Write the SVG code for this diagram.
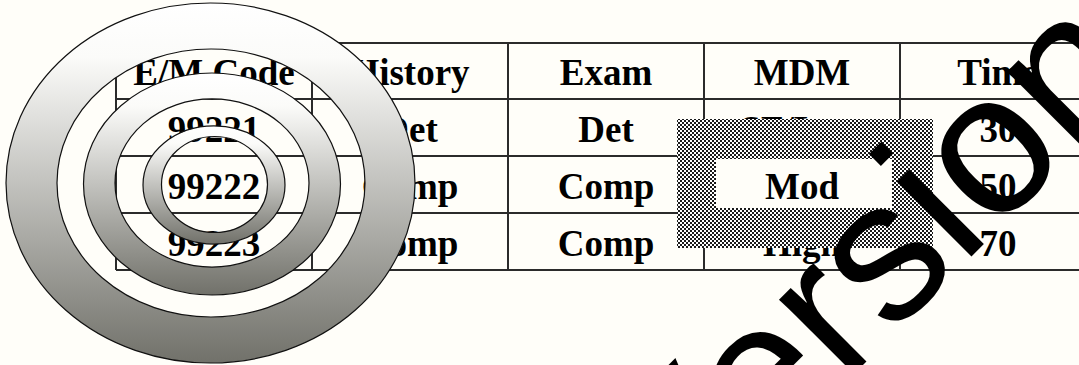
<svg xmlns="http://www.w3.org/2000/svg" width="1079" height="365" viewBox="0 0 1079 365">
<defs>
<style>
.cell{font-family:"Liberation Serif","Times New Roman",serif;font-weight:bold;font-size:37px;fill:#000;text-anchor:middle}
.grid{stroke:#2b2b2b;stroke-width:2;fill:none}
.ring{fill:url(#rg);stroke:#111;stroke-width:1.2;fill-rule:evenodd}
.wm{font-family:"Liberation Sans",Arial,sans-serif;font-size:200px;fill:#000}
</style>
<linearGradient id="rg" x1="0" y1="0" x2="0" y2="1">
<stop offset="0" stop-color="#ffffff"/>
<stop offset="0.15" stop-color="#fbfbf9"/>
<stop offset="1" stop-color="#71716a"/>
</linearGradient>
<pattern id="chk" width="4" height="4" patternUnits="userSpaceOnUse">
<rect width="4" height="4" fill="#ffffff"/>
<rect width="2" height="2" fill="#1a1a1a"/>
<rect x="2" y="2" width="2" height="2" fill="#1a1a1a"/>
</pattern>
</defs>
<rect width="1079" height="365" fill="#fffef9"/>
<g id="table">
<path class="grid" d="M116 43H1090M116 99H1090M116 156H1090M116 213H1090M116 270H1090M116 43V270M312 43V270M508 43V270M704 43V270M900 43V270"/>
<text class="cell" x="214" y="85">E/M Code</text>
<text class="cell" x="410" y="85">History</text>
<text class="cell" x="606" y="85">Exam</text>
<text class="cell" x="802" y="85">MDM</text>
<text class="cell" x="998" y="85">Time</text>
<text class="cell" x="214" y="142">99221</text>
<text class="cell" x="410" y="142">Det</text>
<text class="cell" x="606" y="142">Det</text>
<text class="cell" x="802" y="142">SF/Low</text>
<text class="cell" x="998" y="142">30</text>
<text class="cell" x="214" y="199">99222</text>
<text class="cell" x="410" y="199">Comp</text>
<text class="cell" x="606" y="199">Comp</text>
<text class="cell" x="802" y="199">Mod</text>
<text class="cell" x="998" y="199">50</text>
<text class="cell" x="214" y="256">99223</text>
<text class="cell" x="410" y="256">Comp</text>
<text class="cell" x="606" y="256">Comp</text>
<text class="cell" x="802" y="256">High</text>
<text class="cell" x="998" y="256">70</text>
</g>
<g id="rings">
<path class="ring" d="M6 183a204.5 180 0 1 0 409 0a204.5 180 0 1 0 -409 0ZM57 183a154 134 0 1 0 308 0a154 134 0 1 0 -308 0Z"/>
<path class="ring" d="M83.5 184a128.5 111 0 1 0 257 0a128.5 111 0 1 0 -257 0ZM115 183a97 84 0 1 0 194 0a97 84 0 1 0 -194 0Z"/>
<path class="ring" d="M143 185a71 59 0 1 0 142 0a71 59 0 1 0 -142 0ZM161.5 184.5a53 48 0 1 0 106 0a53 48 0 1 0 -106 0Z"/>
</g>
<g id="checker">
<path d="M677 119H933V248H677ZM716 159V208H892V159Z" fill="url(#chk)" fill-rule="evenodd"/>
</g>
<g id="watermark">
<text class="wm" transform="translate(679,549) rotate(-45)">Version</text>
</g>
</svg>
